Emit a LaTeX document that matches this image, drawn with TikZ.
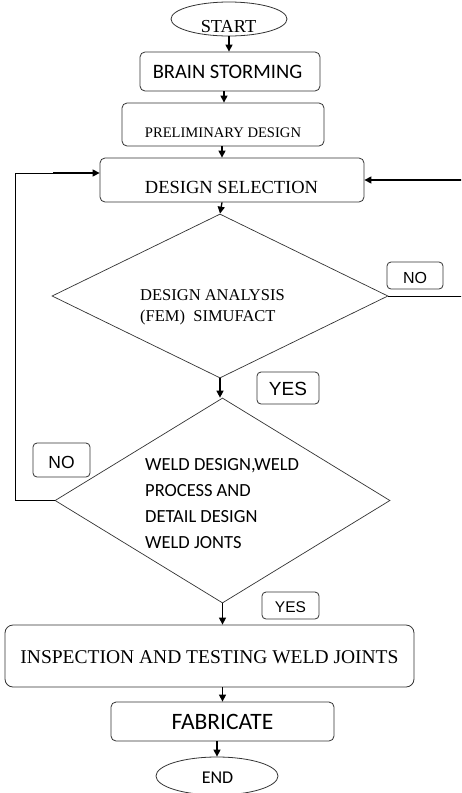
\documentclass[tikz,border=0pt]{standalone}
\usepackage{fontspec}
\setmainfont{Liberation Serif}
\newfontfamily\calib{Carlito}
\newfontfamily\arialf{Liberation Sans}
\usetikzlibrary{shapes.geometric,arrows.meta}
\tikzset{
  box/.style={draw=black!80, line width=0.8pt, rounded corners=5pt, inner sep=0pt},
  tagbox/.style={draw=black!80, line width=0.8pt, rounded corners=4pt, inner sep=0pt},
  oval/.style={ellipse, draw=black!80, line width=0.8pt, inner sep=0pt},
  dia/.style={diamond, draw=black!80, line width=0.7pt, inner sep=0pt},
  txt/.style={inner sep=0pt, anchor=base},
  ltxt/.style={inner sep=0pt, anchor=base west},
  arr/.style={line width=1.3pt, -{Triangle[length=7pt,width=7pt]}},
  fb/.style={line width=0.8pt}
}
\begin{document}
\begin{tikzpicture}[x=1pt,y=-1pt]
\useasboundingbox (0,0) rectangle (461,793);
\clip (0,0) rectangle (461,793);
\fill[white] (0,0) rectangle (461,793);

% shapes
\node[oval, minimum width=116pt, minimum height=34pt] (start) at (229,19) {};
\node[box, minimum width=180pt, minimum height=39pt] (bs) at (230,71.5) {};
\node[box, minimum width=202pt, minimum height=43pt] (pre) at (223,124.5) {};
\node[box, minimum width=264pt, minimum height=44pt] (dsel) at (232,180) {};
\node[dia, minimum width=336pt, minimum height=164pt] (d1) at (220,296) {};
\node[dia, minimum width=335pt, minimum height=205pt] (d2) at (222.5,500.5) {};
\node[box, rounded corners=8pt, minimum width=409pt, minimum height=62pt] (insp) at (209.5,656) {};
\node[box, minimum width=223pt, minimum height=39pt] (fab) at (222.5,721.5) {};
\node[oval, minimum width=122pt, minimum height=38pt] (end) at (217,776) {};

\node[tagbox, minimum width=56pt, minimum height=27pt] (no1) at (415,275.5) {};
\node[tagbox, minimum width=62pt, minimum height=32pt] (yes1) at (288,388) {};
\node[tagbox, minimum width=57pt, minimum height=34pt] (no2) at (61.5,460) {};
\node[tagbox, minimum width=57pt, minimum height=27pt] (yes2) at (290.5,605.5) {};

% texts
\node[txt, font=\fontsize{18.3}{22}\selectfont] (tstart) at (228.5,32) {START};
\node[txt, font=\calib\fontsize{20.5}{24}\selectfont] (tbs) at (227.5,78) {BRAIN STORMING};
\node[txt, font=\fontsize{14.6}{17}\selectfont] (tpre) at (223,137) {PRELIMINARY DESIGN};
\node[txt, font=\fontsize{18.5}{22}\selectfont] (tdsel) at (231.5,193) {DESIGN SELECTION};
\node[ltxt, font=\fontsize{16.5}{20}\selectfont] (td1a) at (140,300) {DESIGN ANALYSIS};
\node[ltxt, font=\fontsize{16.5}{20}\selectfont] (td1b) at (140,321) {(FEM)\ \ SIMUFACT};
\node[ltxt, font=\calib\fontsize{18.5}{22}\selectfont] (td2a) at (145,470) {WELD DESIGN,WELD};
\node[ltxt, font=\calib\fontsize{18.5}{22}\selectfont] (td2b) at (145,496) {PROCESS AND};
\node[ltxt, font=\calib\fontsize{18.5}{22}\selectfont] (td2c) at (145,522) {DETAIL DESIGN};
\node[ltxt, font=\calib\fontsize{18.5}{22}\selectfont] (td2d) at (145,548) {WELD JONTS};
\node[txt, font=\fontsize{19.5}{23}\selectfont] (tinsp) at (209.5,663) {INSPECTION AND TESTING WELD JOINTS};
\node[txt, font=\calib\fontsize{23.5}{28}\selectfont] (tfab) at (222.5,729) {FABRICATE};
\node[txt, font=\calib\fontsize{18}{22}\selectfont] (tend) at (217.5,783) {END};
\node[txt, font=\arialf\fontsize{16}{19}\selectfont] (tno1) at (415,283) {NO};
\node[txt, font=\arialf\fontsize{19}{22}\selectfont] (tyes1) at (288,395) {YES};
\node[txt, font=\arialf\fontsize{17.5}{21}\selectfont] (tno2) at (61.5,468) {NO};
\node[txt, font=\arialf\fontsize{15.5}{19}\selectfont] (tyes2) at (290.5,612) {YES};

% main flow
\draw[arr] (start.south) -- (start.south |- bs.north);
\draw[arr] ([xshift=-6pt]bs.south) -- ([xshift=-6pt]bs.south |- pre.north);
\draw[arr] ([xshift=-1pt]pre.south) -- ([xshift=-1pt]pre.south |- dsel.north);
\draw[arr] ([xshift=-10pt]dsel.south) -- (d1.north);
\draw[arr] (d1.south) -- (d1.south |- d2.north);
\draw[arr] (d2.south) -- (d2.south |- insp.north);
\draw[arr] (d2.south |- insp.south) -- (d2.south |- fab.north);
\draw[arr] ([xshift=-5.5pt]fab.south) -- ([xshift=-5.5pt]fab.south |- end.north);

% feedback loops
\coordinate (cl) at (15,173);
\coordinate (cla) at (53,173);
\draw[fb] (d2.west) -| (cl) -- (cla);
\draw[arr] (cla) -- (dsel.west |- cla);
\coordinate (cr) at (475,180);
\draw[fb] (d1.east) -| (cr);
\draw[arr] (cr) -- (dsel.east |- cr);
\end{tikzpicture}
\end{document}
